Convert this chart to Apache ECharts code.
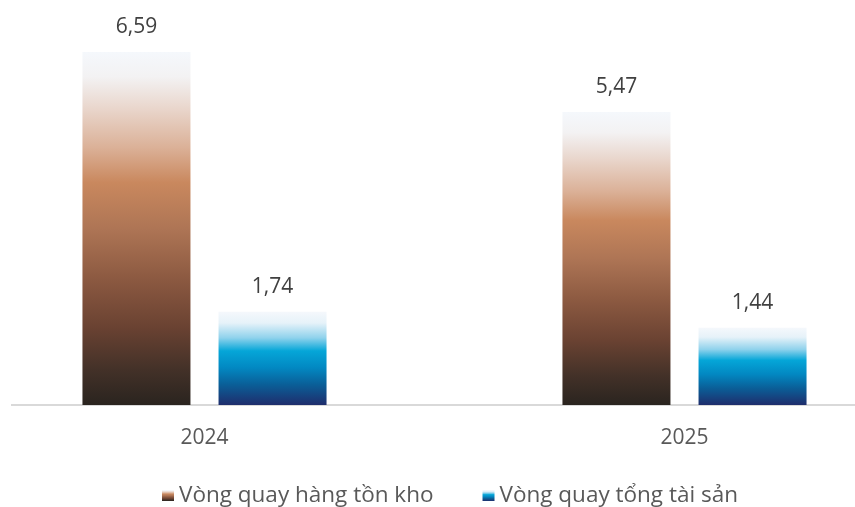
<!DOCTYPE html>
<html>
<head>
<meta charset="utf-8">
<script src="https://cdn.jsdelivr.net/npm/echarts@6/dist/echarts.min.js"></script>
<style>
  html, body { margin: 0; padding: 0; background: #fff; }
  #chart { width: 855px; height: 507px; }
</style>
</head>
<body>
<div id="chart"></div>
<script>
// Years on the category axis
const years = ['2024', '2025'];
// Inventory turnover and total asset turnover
const inventoryTurnover = [6.59, 5.47];
const assetTurnover = [1.74, 1.44];
const seriesNames = ['Vòng quay hàng tồn kho', 'Vòng quay tổng tài sản'];

const FONT = '"Open Sans", "Noto Sans", sans-serif';

function vgrad(stops) {
  return new echarts.graphic.LinearGradient(0, 0, 0, 1,
    stops.map(s => ({ offset: s[0], color: s[1] })));
}

const brownFill = vgrad([
  [0, '#f5f8fc'], [0.07, '#f3f2f3'], [0.16, '#e9d6cc'], [0.27, '#dbb198'],
  [0.37, '#c9885e'], [0.5, '#ae7555'], [0.65, '#8a5840'], [0.78, '#6a4232'],
  [0.9, '#433128'], [1, '#2a241f']
]);
const blueFill = vgrad([
  [0, '#f5f8fc'], [0.12, '#e6f2f9'], [0.28, '#8fd2ec'], [0.42, '#05a6d8'],
  [0.6, '#0288c2'], [0.78, '#0a5f98'], [1, '#1f2d6c']
]);

const valueFmt = p => p.value.toFixed(2).replace('.', ',');

const labelStyle = {
  show: true,
  position: 'top',
  distance: 14,
  color: '#404040',
  fontSize: 21,
  fontFamily: FONT,
  formatter: valueFmt
};

const chart = echarts.init(document.getElementById('chart'));
chart.setOption({
  animation: false,
  backgroundColor: '#ffffff',
  grid: {
    left: -35.5, right: -69.5, top: 30, bottom: 102,
    containLabel: false, outerBoundsMode: 'none'
  },
  xAxis: {
    type: 'category',
    data: years,
    axisLine: { show: false },
    axisTick: { show: false },
    axisLabel: { color: '#595959', fontSize: 21, fontFamily: FONT, margin: 23 }
  },
  yAxis: {
    type: 'value',
    min: 0,
    max: 7,
    show: false
  },
  legend: {
    top: 484,
    left: 162,
    padding: 0,
    itemWidth: 12,
    itemHeight: 11,
    itemGap: 49,
    icon: 'rect',
    textStyle: { color: '#595959', fontSize: 22.5, fontFamily: FONT },
    data: seriesNames
  },
  graphic: [{
    type: 'line',
    shape: { x1: 11, y1: 405, x2: 855, y2: 405 },
    style: { stroke: '#d9d9d9', lineWidth: 2 },
    z: 0
  }],
  series: [
    {
      name: seriesNames[0],
      type: 'bar',
      data: inventoryTurnover,
      barWidth: 108,
      barGap: '26%',
      itemStyle: { color: brownFill },
      label: labelStyle
    },
    {
      name: seriesNames[1],
      type: 'bar',
      data: assetTurnover,
      barWidth: 108,
      itemStyle: { color: blueFill },
      label: labelStyle
    }
  ]
});
</script>
</body>
</html>
